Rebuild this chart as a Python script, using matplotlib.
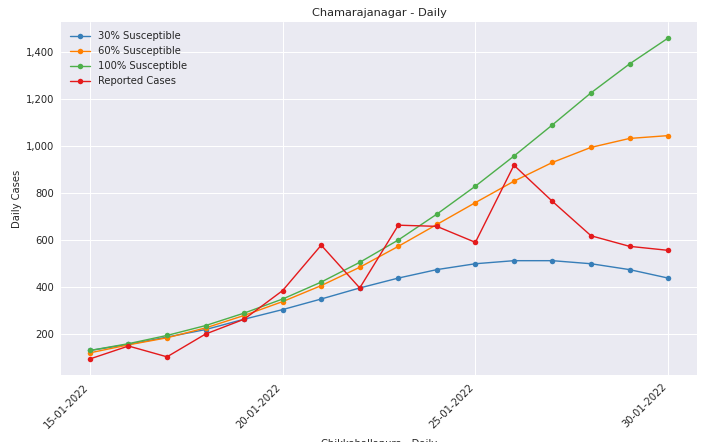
import pandas as pd
import matplotlib.pyplot as plt
import matplotlib.dates as mdates
import matplotlib.ticker as mticker

dates = pd.date_range('2022-01-15', '2022-01-30', freq='D')

sus_30 = [129, 155, 186, 218, 262, 303, 348, 395, 437, 473, 498, 511, 511, 498, 473, 437]
sus_60 = [119, 153, 183, 225, 278, 337, 405, 483, 572, 665, 758, 849, 929, 993, 1031, 1043]
sus_100 = [129, 158, 193, 235, 288, 348, 420, 504, 599, 709, 828, 956, 1089, 1225, 1348, 1458]
reported = [93, 148, 102, 199, 262, 384, 577, 395, 662, 657, 589, 917, 763, 617, 572, 555]

series = [
    ('30% Susceptible', sus_30, '#377eb8'),
    ('60% Susceptible', sus_60, '#ff7f00'),
    ('100% Susceptible', sus_100, '#4daf4a'),
    ('Reported Cases', reported, '#e41a1c'),
]

plt.style.use('seaborn-v0_8')
plt.rcParams['font.family'] = 'DejaVu Sans'

fig = plt.figure(figsize=(707 / 72, 442 / 72), dpi=72)
ax = fig.add_axes([0.0863, 0.1516, 0.8996, 0.7986])

for label, vals, c in series:
    ax.plot(dates, vals, label=label, color=c, marker='o', markersize=5.5, linewidth=1.4)

ax.set_xticks(dates[::5])
ax.xaxis.set_major_formatter(mdates.DateFormatter('%d-%m-%Y'))
plt.setp(ax.get_xticklabels(), rotation=45, ha='right', fontsize=10)
ax.tick_params(axis='y', labelsize=10)
ax.yaxis.set_major_formatter(mticker.StrMethodFormatter('{x:,.0f}'))

ax.set_title('Chamarajanagar - Daily', fontsize=11.4)
ax.set_ylabel('Daily Cases', fontsize=10)
ax.set_xlabel('Chikkaballapura - Daily', fontsize=10, labelpad=9)
ax.legend(loc='upper left', fontsize=10)

fig.savefig('out.png', dpi=72)
